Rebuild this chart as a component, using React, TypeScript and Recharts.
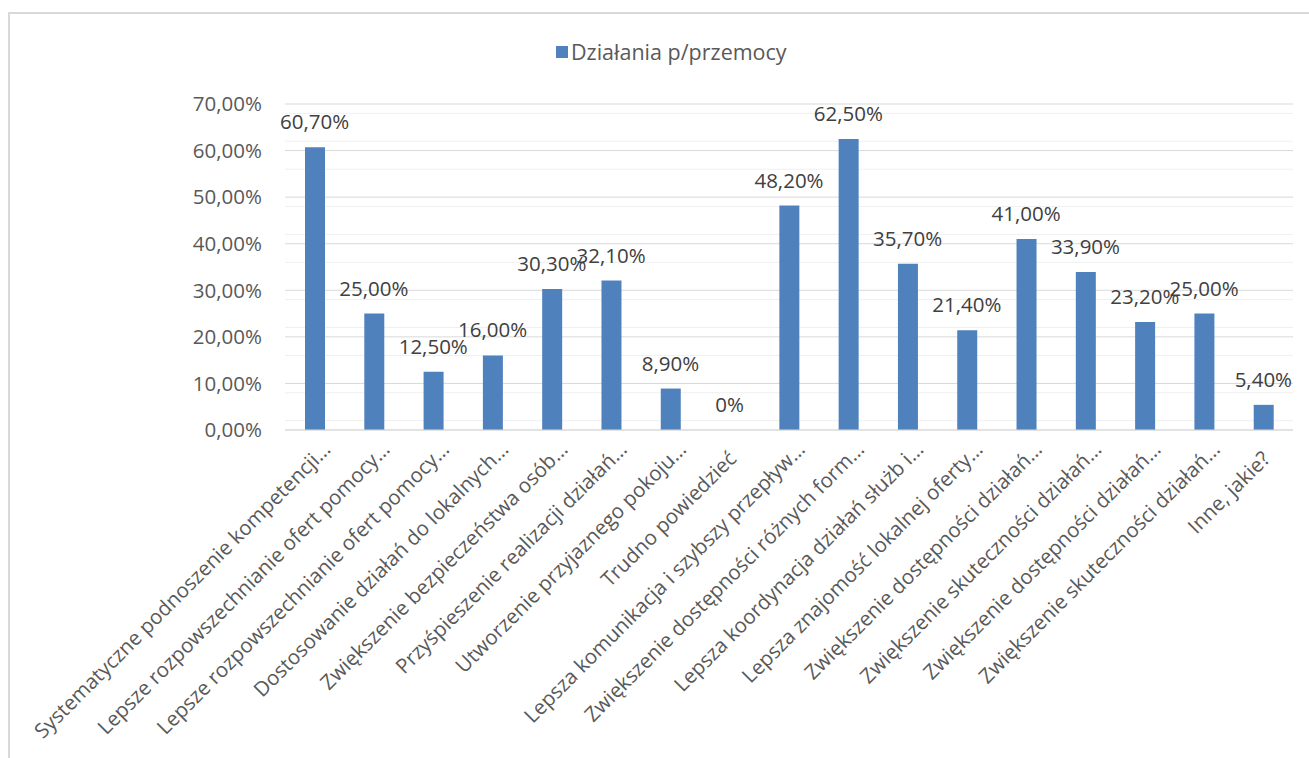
import { Bar, CartesianGrid, ComposedChart, LabelList, Legend, Line, XAxis, YAxis } from 'recharts';

const categories = [
  'Systematyczne podnoszenie kompetencji…',
  'Lepsze rozpowszechnianie ofert pomocy…',
  'Lepsze rozpowszechnianie ofert pomocy…',
  'Dostosowanie działań do lokalnych…',
  'Zwiększenie bezpieczeństwa osób…',
  'Przyśpieszenie realizacji działań…',
  'Utworzenie przyjaznego pokoju…',
  'Trudno powiedzieć',
  'Lepsza komunikacja i szybszy przepływ…',
  'Zwiększenie dostępności różnych form…',
  'Lepsza koordynacja działań służb i…',
  'Lepsza znajomość lokalnej oferty…',
  'Zwiększenie dostępności działań…',
  'Zwiększenie skuteczności działań…',
  'Zwiększenie dostępności działań…',
  'Zwiększenie skuteczności działań…',
  'Inne, jakie?',
];

const values = [60.7, 25.0, 12.5, 16.0, 30.3, 32.1, 8.9, 0, 48.2, 62.5, 35.7, 21.4, 41.0, 33.9, 23.2, 25.0, 5.4];

const majorTicks = [0, 10, 20, 30, 40, 50, 60, 70];
const minorTicks = [2, 4, 6, 8, 12, 14, 16, 18, 22, 24, 26, 28, 32, 34, 36, 38, 42, 44, 46, 48, 52, 54, 56, 58, 62, 64, 66, 68];

const seriesName = 'Działania p/przemocy';

const data = values.map((v, i) => ({ id: i, value: v }));

const FONT = '"Open Sans", sans-serif';
const BLUE = '#4f81bd';

const fmtAxis = (v: number) => v.toFixed(2).replace('.', ',') + '%';
const fmtLabel = (v: number) => (v === 0 ? '0%' : v.toFixed(2).replace('.', ',') + '%');

function XTick(props: any) {
  const { x, y, payload } = props;
  const label = categories[payload.value];
  // truncated labels sit a bit further along the baseline, like in Excel
  const shift = label.endsWith('…') ? 13 : 0;
  return (
    <g transform={`translate(${x + 8},${y + 30})`}>
      <text textAnchor="end" transform="rotate(-45)" dx={shift} fill="#595959" fontSize={20.5} fontFamily={FONT}>
        {label}
      </text>
    </g>
  );
}

function LegendBox() {
  return (
    <div style={{ display: 'flex', alignItems: 'center', fontFamily: FONT, fontSize: 21.5, color: '#595959' }}>
      <span style={{ width: 12, height: 12, background: BLUE, marginRight: 3, display: 'inline-block' }} />
      <span>{seriesName}</span>
    </div>
  );
}

export default function App() {
  return (
    <div style={{ position: 'absolute', left: 0, top: 0, width: 1309, height: 758, overflow: 'hidden', background: '#fff' }}>
      <div
        style={{
          position: 'absolute',
          left: 8,
          top: 12,
          width: 1400,
          height: 800,
          border: '2px solid #d9d9d9',
        }}
      />
      <div style={{ position: 'absolute', left: 0, top: 0 }}>
        <ComposedChart width={1309} height={758} data={data} margin={{ top: 104, right: 16, bottom: 28, left: 205 }} barSize={20}>
          <CartesianGrid vertical={false} horizontalValues={minorTicks} stroke="#f0f0f0" strokeWidth={1} />
          <CartesianGrid vertical={false} stroke="#d9d9d9" strokeWidth={1} />
          <XAxis
            dataKey="id"
            interval={0}
            height={300}
            tickSize={0}
            tickMargin={0}
            axisLine={{ stroke: '#d9d9d9' }}
            tickLine={false}
            tick={<XTick />}
          />
          <YAxis
            width={80}
            domain={[0, 70]}
            ticks={majorTicks}
            tickFormatter={fmtAxis}
            axisLine={false}
            tickLine={false}
            tickSize={0}
            tickMargin={23}
            tick={{ fill: '#595959', fontSize: 20.5, fontFamily: FONT }}
          />
          <Legend
            verticalAlign="middle"
            align="center"
            layout="horizontal"
            content={<LegendBox />}
            wrapperStyle={{ top: 37, left: 556, width: 'auto' }}
          />
          <Bar dataKey="value" name={seriesName} fill={BLUE} isAnimationActive={false} />
          <Line
            dataKey="value"
            stroke="none"
            dot={false}
            activeDot={false}
            legendType="none"
            isAnimationActive={false}
          >
            <LabelList
              dataKey="value"
              position="top"
              offset={18}
              formatter={(v: any) => fmtLabel(Number(v))}
              style={{ fill: '#404040', fontSize: 20.5, fontFamily: FONT }}
            />
          </Line>
        </ComposedChart>
      </div>
    </div>
  );
}
